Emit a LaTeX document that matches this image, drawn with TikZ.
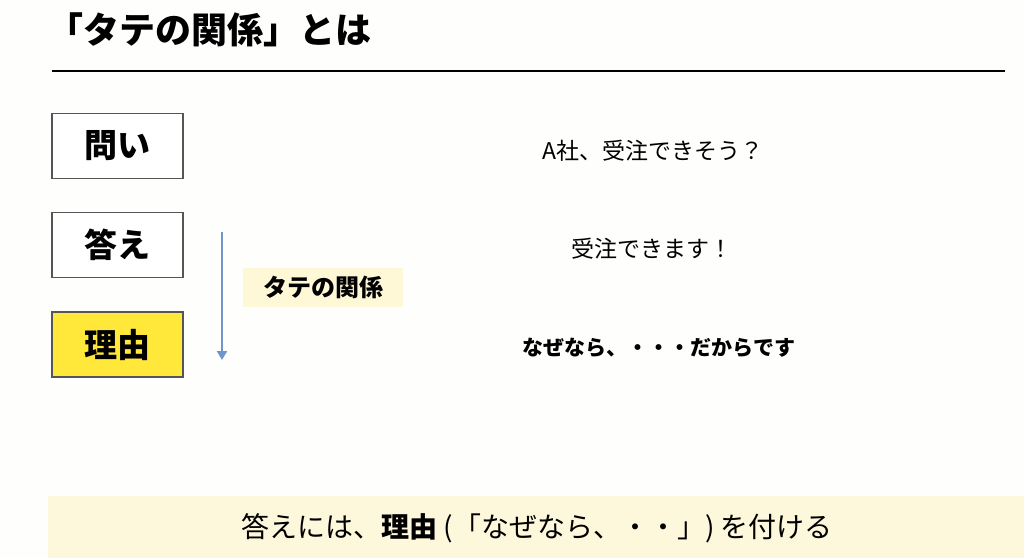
\documentclass[tikz,border=0pt]{standalone}
\usepackage{fontspec}
\setmainfont{Noto Sans CJK JP}
\usetikzlibrary{arrows.meta}
\definecolor{bg}{HTML}{FEFEFC}
\definecolor{band}{HTML}{FDF8DC}
\definecolor{tag}{HTML}{FFF8D6}
\definecolor{ylw}{HTML}{FFE83A}
\definecolor{arr}{HTML}{6F96CC}
\definecolor{frame}{HTML}{555555}
\tikzset{
  lbox/.style={draw=frame, line width=1.3pt, minimum width=131pt, minimum height=65pt, inner sep=0pt, font=\fontsize{33}{36}\selectfont\bfseries},
  rtext/.style={inner sep=0pt, font=\fontsize{23}{26}\selectfont},
}
\begin{document}
\begin{tikzpicture}[x=1pt,y=-1pt]
\useasboundingbox (0,0) rectangle (1024,558);
\fill[bg] (0,0) rectangle (1024,558);
% title
\node[anchor=west, inner sep=0pt, font=\fontsize{36}{40}\selectfont\bfseries] (title) at (47,30) {「タテの関係」とは};
\coordinate (ruleL) at (52,71);
\coordinate (ruleR) at (1005,71);
\draw[line width=2pt] (ruleL) -- (ruleR);
% boxes
\node[lbox, fill=white] (q) at (117.5,146) {問い};
\node[lbox, fill=white] (a) at (117.5,245) {答え};
\node[lbox, fill=ylw] (r) at (117.5,344.5) {理由};
% arrow
\coordinate (arrS) at (222,232);
\coordinate (arrE) at (222,360);
\draw[arr, line width=2.8pt, -{Triangle[length=9pt,width=10pt]}] (arrS) -- (arrE);
\node[fill=tag, minimum width=160pt, minimum height=39pt, inner sep=0pt, font=\fontsize{24}{26}\selectfont\bfseries] (tate) at (323,287.5) {タテの関係};
% right texts
\node[rtext] (t1) at (653,151) {A社、受注できそう？};
\node[rtext] (t2) at (652,249) {受注できます！};
\node[rtext, font=\fontsize{21}{24}\selectfont\bfseries] (t3) at (659,348) {なぜなら、・・・だからです};
% bottom band
\fill[band] (48,496) rectangle (1024,558);
\node[inner sep=0pt, font=\fontsize{28}{30}\selectfont] (bottom) at (537,528) {答えには、\textbf{理由} (「なぜなら、・・」) を付ける};
\end{tikzpicture}
\end{document}
